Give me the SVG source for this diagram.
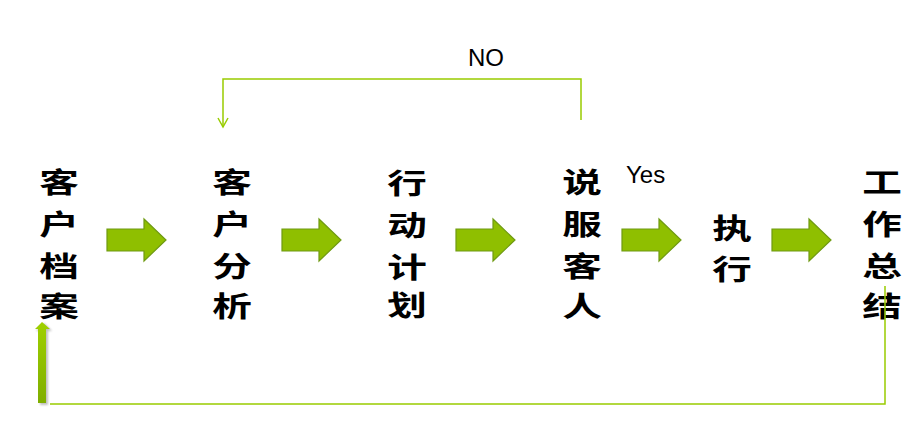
<svg xmlns="http://www.w3.org/2000/svg" width="923" height="446" viewBox="0 0 923 446">
<style>
.cj{font-family:"Noto Sans CJK SC","Noto Sans",sans-serif;font-weight:bold;font-size:33px;fill:#000;text-anchor:middle;dominant-baseline:central}
.lbl{font-family:"Liberation Sans",Arial,sans-serif;font-size:24px;fill:#000}
.blk{fill:#8fbf00;stroke:#6f9a12;stroke-width:1.2}
.ln{fill:none;stroke:#99cc00;stroke-width:1.5}
</style>
<defs>
<path id="ba" d="M0,-11 L37,-11 L37,-21 L59,0 L37,21 L37,11 L0,11 Z"/>
<linearGradient id="ug" x1="0" y1="0" x2="0" y2="1">
<stop offset="0" stop-color="#9fd000"/>
<stop offset="1" stop-color="#7fae00"/>
</linearGradient>
<filter id="sh" x="-1" y="-0.2" width="3" height="1.4"><feGaussianBlur stdDeviation="1.2"/></filter>
<marker id="oa" markerWidth="12" markerHeight="12" refX="10" refY="6" orient="auto" markerUnits="userSpaceOnUse" viewBox="0 0 12 12">
<path d="M1,1 L10,6 L1,11" fill="none" stroke="#99cc00" stroke-width="1.5"/>
</marker>
</defs>
<rect width="923" height="446" fill="#fff"/>
<g id="n1">
<text class="cj" transform="translate(59,181) scale(1.2,0.85)">客</text>
<text class="cj" transform="translate(59,223) scale(1.2,0.85)">户</text>
<text class="cj" transform="translate(59,265) scale(1.2,0.85)">档</text>
<text class="cj" transform="translate(59,305) scale(1.2,0.85)">案</text>
</g>
<g id="n2">
<text class="cj" transform="translate(232,181) scale(1.2,0.85)">客</text>
<text class="cj" transform="translate(232,223) scale(1.2,0.85)">户</text>
<text class="cj" transform="translate(232,265) scale(1.2,0.85)">分</text>
<text class="cj" transform="translate(232,305) scale(1.2,0.85)">析</text>
</g>
<g id="n3">
<text class="cj" transform="translate(407,182) scale(1.2,0.85)">行</text>
<text class="cj" transform="translate(407,224) scale(1.2,0.85)">动</text>
<text class="cj" transform="translate(407,266) scale(1.2,0.85)">计</text>
<text class="cj" transform="translate(407,304) scale(1.2,0.85)">划</text>
</g>
<g id="n4">
<text class="cj" transform="translate(582,181) scale(1.2,0.85)">说</text>
<text class="cj" transform="translate(582,223) scale(1.2,0.85)">服</text>
<text class="cj" transform="translate(582,265) scale(1.2,0.85)">客</text>
<text class="cj" transform="translate(582,305) scale(1.2,0.85)">人</text>
</g>
<g id="n5">
<text class="cj" transform="translate(732,227) scale(1.2,0.85)">执</text>
<text class="cj" transform="translate(732,268) scale(1.2,0.85)">行</text>
</g>
<g id="n6">
<text class="cj" transform="translate(882,181) scale(1.2,0.85)">工</text>
<text class="cj" transform="translate(882,223) scale(1.2,0.85)">作</text>
<text class="cj" transform="translate(882,265) scale(1.2,0.85)">总</text>
<text class="cj" transform="translate(882,305) scale(1.2,0.85)">结</text>
</g>
<g id="connectors">
<use href="#ba" class="blk" x="107" y="240"/>
<use href="#ba" class="blk" x="282" y="240"/>
<use href="#ba" class="blk" x="456" y="240"/>
<use href="#ba" class="blk" x="622" y="240"/>
<use href="#ba" class="blk" x="772" y="240"/>
<path class="ln" d="M581,120 V79 H223 V127" marker-end="url(#oa)"/>
<path class="ln" d="M885,286 V404 H50"/>
<path d="M39,404 V330 H35 L43,322 L51,330 H47 V404 Z" fill="#000" opacity="0.25" filter="url(#sh)" transform="translate(1,1)"/>
<path d="M38,403 V329 H35 L42,322 L50,329 H46 V403 Z" fill="url(#ug)"/>
<text class="lbl" x="468" y="66">NO</text>
<text class="lbl" x="626" y="183">Yes</text>
</g>
</svg>
